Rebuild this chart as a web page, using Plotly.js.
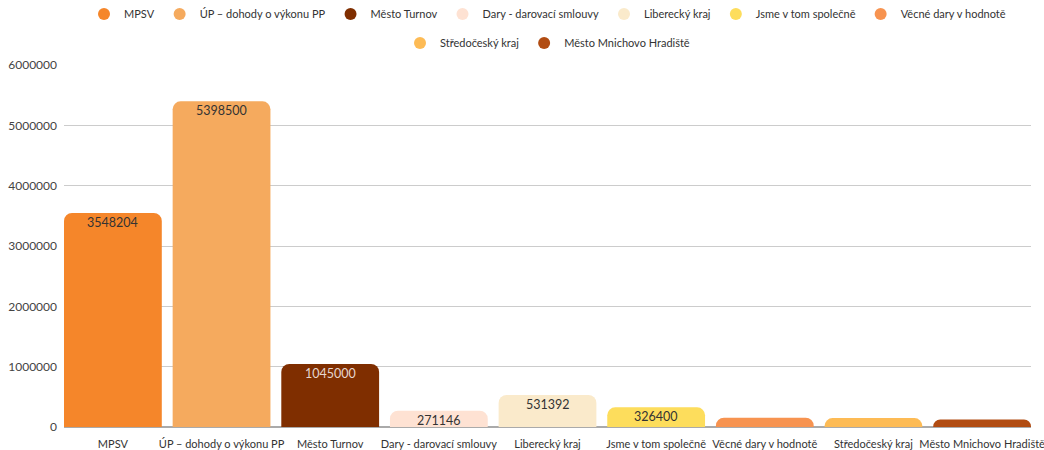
<!DOCTYPE html>
<html>
<head>
<meta charset="utf-8">
<script src="https://cdn.plot.ly/plotly-3.0.1.min.js"></script>
<style>html,body{margin:0;padding:0;background:#fff}#chart{width:1044px;height:450px}</style>
</head>
<body>
<div id="chart"></div>
<script>
const categories = ["MPSV", "ÚP – dohody o výkonu PP", "Město Turnov", "Dary - darovací smlouvy", "Liberecký kraj", "Jsme v tom společně", "Věcné dary v hodnotě", "Středočeský kraj", "Město Mnichovo Hradiště"];
const values = [3548204, 5398500, 1045000, 271146, 531392, 326400, 155000, 148000, 125000];
const shownLabels = ["3548204", "5398500", "1045000", "271146", "531392", "326400", "", "", ""];
const colors = ["#F5862A", "#F5AA5E", "#7F2E00", "#FEE2D3", "#FAEACB", "#FDDD5C", "#F79350", "#FDBB55", "#B14C12"];
const textColors = ["#333333", "#333333", "#E6D6CF", "#333333", "#333333", "#333333", "#333333", "#333333", "#333333"];
const legendGroups = ["legend", "legend", "legend", "legend", "legend", "legend", "legend", "legend2", "legend2"];
const yTicks = [0, 1000000, 2000000, 3000000, 4000000, 5000000, 6000000];

const FONT = "Lato, 'Open Sans', sans-serif";
const BARGAP = 0.1;
const traces = [];
categories.forEach((c, i) => {
  traces.push({
    type: "bar",
    x: [c],
    y: [values[i]],
    name: c,
    showlegend: false,
    marker: {color: colors[i], line: {width: 0}},
    hoverinfo: "x+y"
  });
});
categories.forEach((c, i) => {
  traces.push({
    type: "scatter",
    mode: "markers",
    x: [null],
    y: [null],
    name: c,
    legend: legendGroups[i],
    marker: {color: colors[i], size: 12, symbol: "circle"},
    showlegend: true
  });
});

const annotations = categories.map((c, i) => ({
  x: c,
  y: values[i],
  xref: "x",
  yref: "y",
  text: shownLabels[i],
  showarrow: false,
  yanchor: "top",
  yshift: 0,
  font: {family: FONT, size: 12.5, color: textColors[i]}
})).filter(a => a.text !== "");

const legendCommon = {
  orientation: "h",
  xanchor: "center",
  yanchor: "middle",
  font: {family: FONT, size: 11, color: "#333"},
  itemclick: false,
  itemwidth: 30,
  bgcolor: "rgba(0,0,0,0)"
};

const half = (1 - BARGAP) / 2;
const layout = {
  width: 1044,
  height: 450,
  margin: {l: 64, r: 13, t: 65, b: 23, autoexpand: false},
  paper_bgcolor: "#ffffff",
  plot_bgcolor: "#ffffff",
  font: {family: FONT, size: 12, color: "#444"},
  barmode: "overlay",
  bargap: BARGAP,
  barcornerradius: 8,
  annotations: annotations,
  xaxis: {
    type: "category",
    range: [-half, categories.length - 1 + half],
    showgrid: false,
    showline: false,
    ticks: "",
    tickangle: 0,
    ticklabelstandoff: 9,
    tickfont: {family: FONT, size: 11, color: "#333"},
    automargin: false
  },
  yaxis: {
    range: [0, 6000000],
    tickvals: yTicks,
    ticktext: yTicks.map(v => String(v)),
    showgrid: true,
    gridcolor: "#cccccc",
    gridwidth: 1,
    zeroline: true,
    zerolinecolor: "#aaaaaa",
    zerolinewidth: 2,
    ticks: "",
    ticklabelstandoff: 6,
    tickfont: {family: FONT, size: 12, color: "#444"},
    automargin: false
  },
  legend: Object.assign({}, legendCommon, {x: 0.5, y: 1.141}),
  legend2: Object.assign({}, legendCommon, {x: 0.5, y: 1.061}),
  showlegend: true
};

Plotly.newPlot("chart", traces, layout, {displayModeBar: false, staticPlot: true});
</script>
</body>
</html>
